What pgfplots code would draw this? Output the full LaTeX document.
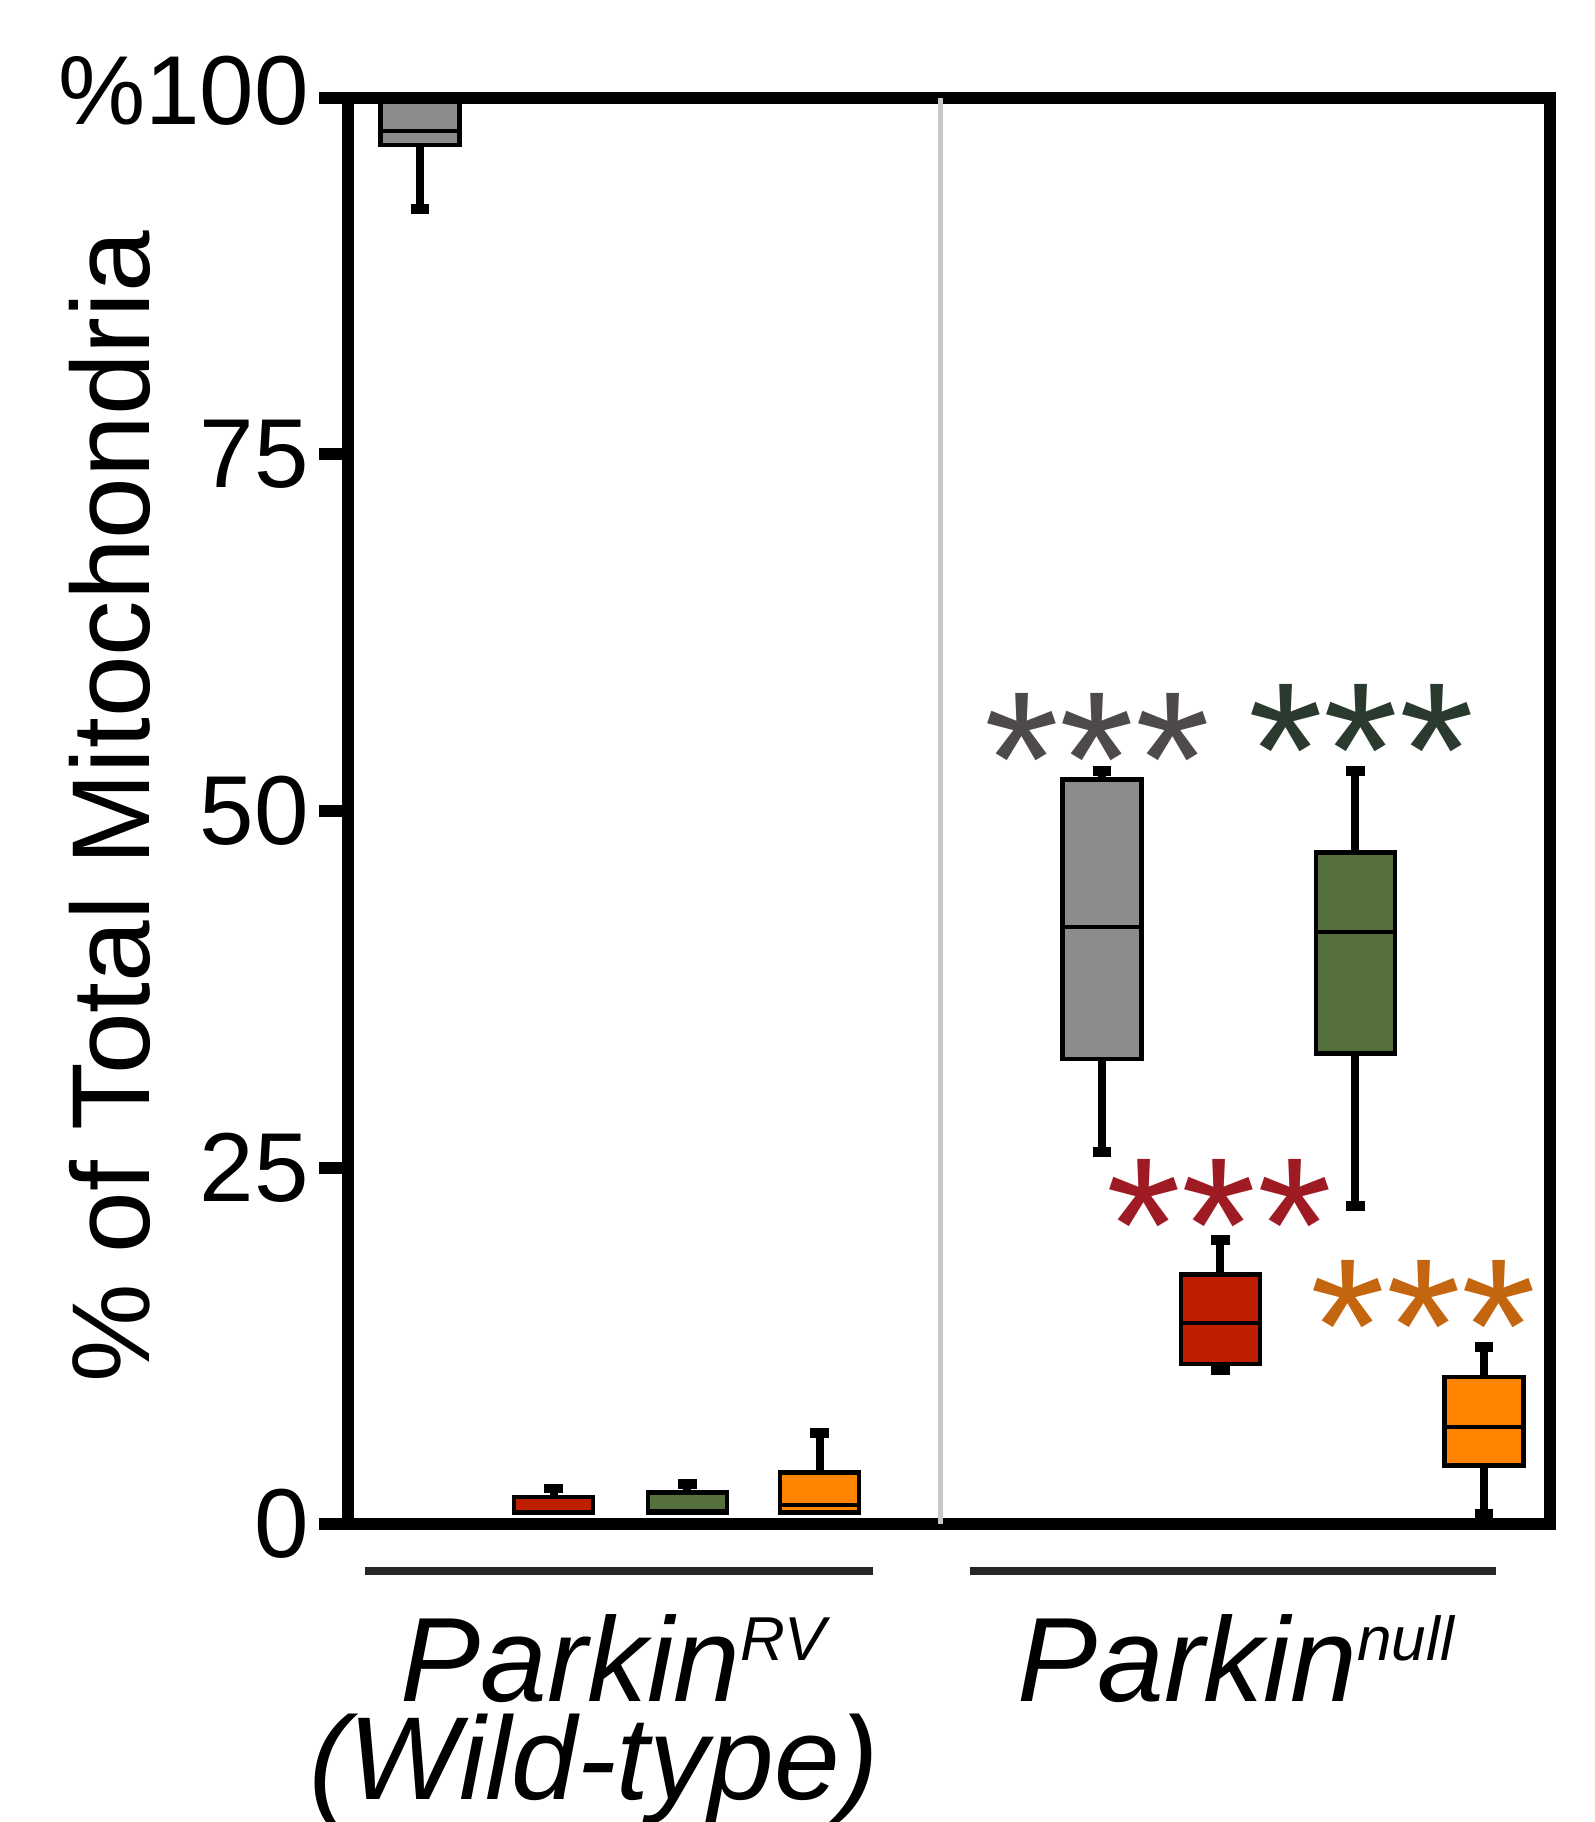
\documentclass[border=0pt]{standalone}
\usepackage{fontspec}
\setmainfont{Liberation Sans}
\usepackage{pgfplots}
\pgfplotsset{compat=1.18}
\definecolor{cgrey}{HTML}{8C8C8C}
\definecolor{cred}{HTML}{C01E00}
\definecolor{cgreen}{HTML}{55703A}
\definecolor{corange}{HTML}{FF8500}
\definecolor{sgrey}{HTML}{4E4A4A}
\definecolor{sgreen}{HTML}{2B3A2F}
\definecolor{sred}{HTML}{9E1B24}
\definecolor{sorange}{HTML}{C4650F}
\newcommand{\stars}{\makebox[18.9pt]{*}\makebox[18.9pt]{*}\makebox[18.9pt]{*}}
% whisker: x, cap left, cap right, box edge, whisker end
\newcommand{\whisk}[5]{%
  \addplot[line width=2pt] coordinates {(#1,#4) (#1,#5)};
  \addplot[line width=2.4pt] coordinates {(#2,#5) (#3,#5)};}
% box: left, right, lower quartile, upper quartile, median, colour
\newcommand{\bbox}[6]{%
  \addplot[fill=#6, draw=black, line width=1.1pt, line join=miter] coordinates {(#1,#3) (#2,#3) (#2,#4) (#1,#4) (#1,#3) (#2,#3)};
  \addplot[line width=1pt] coordinates {(#1,#5) (#2,#5)};}
\begin{document}
\begin{tikzpicture}
\begin{axis}[
  at={(0,0)}, anchor=south west,
  scale only axis, width=300.6pt, height=356.5pt,
  xmin=300, xmax=1335, ymin=0, ymax=100,
  enlargelimits=false, clip=false,
  axis line style={line width=3pt},
  xtick=\empty,
  ytick={0,25,50,75,100},
  yticklabels={0,25,50,75,\raisebox{3.8pt}{\%100}},
  ytick pos=left,
  tick align=outside,
  major tick length=7.3pt,
  tick style={line width=3pt, black},
  yticklabel style={font=\fontsize{24.5}{28}\selectfont, inner sep=0pt, anchor=east, xshift=-2.3pt},
  /pgf/number format/assume math mode=true,
]
\draw[color={rgb,255:red,200;green,200;blue,200}, line width=1.2pt] (axis cs:810,0) -- (axis cs:810,100);

% Parkin RV (wild-type)
\whisk{362}{354}{370}{96.7}{92.2}
\bbox{328}{396}{96.7}{99.7}{97.7}{cgrey}
\whisk{477}{469}{485}{1.9}{2.5}
\bbox{443}{511}{0.8}{1.9}{0.8}{cred}
\whisk{592}{584}{600}{2.2}{2.8}
\bbox{558}{626}{0.8}{2.2}{0.9}{cgreen}
\whisk{706}{698}{714}{3.6}{6.4}
\bbox{672}{740}{0.8}{3.6}{1.3}{corange}

% Parkin null
\whisk{949}{941}{957}{32.6}{26.1}
\whisk{949}{941}{957}{52.2}{52.8}
\bbox{915}{983}{32.6}{52.2}{41.9}{cgrey}
\whisk{1051}{1043}{1059}{11.2}{10.8}
\whisk{1051}{1043}{1059}{17.5}{19.9}
\bbox{1017}{1085}{11.2}{17.5}{14.1}{cred}
\whisk{1167}{1159}{1175}{33.0}{22.3}
\whisk{1167}{1159}{1175}{47.1}{52.8}
\bbox{1133}{1201}{33.0}{47.1}{41.5}{cgreen}
\whisk{1278}{1270}{1286}{4.1}{0.7}
\whisk{1278}{1270}{1286}{10.3}{12.4}
\bbox{1244}{1312}{4.1}{10.3}{6.8}{corange}

% significance stars
\node[anchor=base, inner sep=0pt, text=sgrey, font=\fontsize{48}{48}\selectfont] at (axis cs:945,49.0) {\stars};
\node[anchor=base, inner sep=0pt, text=sgreen, font=\fontsize{48}{48}\selectfont] at (axis cs:1172,49.6) {\stars};
\node[anchor=base, inner sep=0pt, text=sred, font=\fontsize{48}{48}\selectfont] at (axis cs:1050,16.3) {\stars};
\node[anchor=base, inner sep=0pt, text=sorange, font=\fontsize{48}{48}\selectfont] at (axis cs:1226,9.2) {\stars};

% y label
\node[rotate=90, inner sep=0pt, font=\fontsize{27.7}{30}\selectfont] at (axis cs:95,50.3) {\% of Total Mitochondria};

% group lines and labels
\draw[line width=2.2pt, black!85] (axis cs:315,-3.3) -- (axis cs:752,-3.3);
\draw[line width=2.2pt, black!85] (axis cs:835,-3.3) -- (axis cs:1288,-3.3);
\node[anchor=base, inner sep=0pt, font=\fontsize{30}{30}\selectfont\itshape] at (axis cs:528,-12.46) {Parkin\raisebox{10.4pt}{\fontsize{15.5}{15.5}\selectfont RV}};
\node[anchor=base, inner sep=0pt, font=\fontsize{29.5}{30}\selectfont\itshape] at (axis cs:512,-19.3) {(Wild-type)};
\node[anchor=base, inner sep=0pt, font=\fontsize{30}{30}\selectfont\itshape] at (axis cs:1064,-12.46) {Parkin\raisebox{10.4pt}{\fontsize{15.5}{15.5}\selectfont null}};
\end{axis}
\pgfresetboundingbox
\path (-87pt,-74.5pt) rectangle (311.75pt,381pt);
\end{tikzpicture}
\end{document}
